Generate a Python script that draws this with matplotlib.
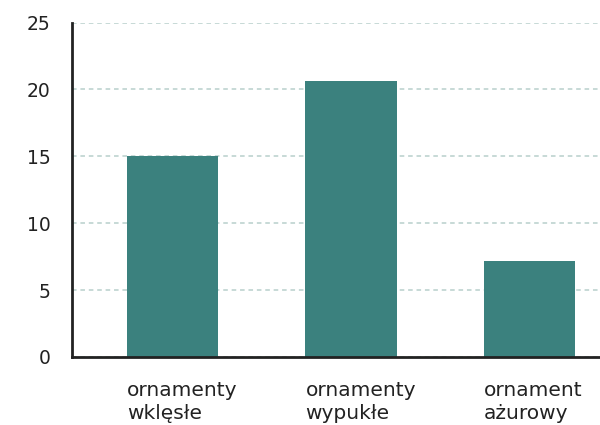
import matplotlib.pyplot as plt
import numpy as np
from matplotlib import transforms

categories = ["ornamenty\nwklęsłe", "ornamenty\nwypukłe", "ornament\nażurowy"]
values = [15.0, 20.6, 7.2]
yticks = [0, 5, 10, 15, 20, 25]

plt.rcParams['font.family'] = ['DejaVu Sans']

fig = plt.figure(figsize=(6, 4.25), dpi=100)
ax = fig.add_axes([0.12, 0.16, 0.88, 0.787])

x = np.arange(len(categories))
width = 0.51
ax.bar(x, values, width=width, color='#3b817e', zorder=3)

ax.set_ylim(0, 25)
ax.set_xlim(-0.563, 2.395)
ax.set_yticks(yticks)
ax.set_yticklabels([str(t) for t in yticks], fontsize=13.5, color='#222222')
ax.tick_params(axis='y', length=0, pad=15.5)
ax.set_xticks([])

ax.yaxis.grid(True, linestyle=(0, (3, 2.5)), color='#b8d0cc', linewidth=1.1, zorder=0)

for s in ['top', 'right']:
    ax.spines[s].set_visible(False)
for s in ['left', 'bottom']:
    ax.spines[s].set_color('#222222')
    ax.spines[s].set_linewidth(2)
    ax.spines[s].set_zorder(4)

trans = transforms.blended_transform_factory(ax.transData, ax.transAxes)
for i, lab in enumerate(categories):
    ax.text(x[i] - width / 2, -0.1868, lab, transform=trans, ha='left', va='baseline',
            fontsize=14.5, color='#222222', linespacing=1.28)

fig.savefig('out.png', dpi=100)
